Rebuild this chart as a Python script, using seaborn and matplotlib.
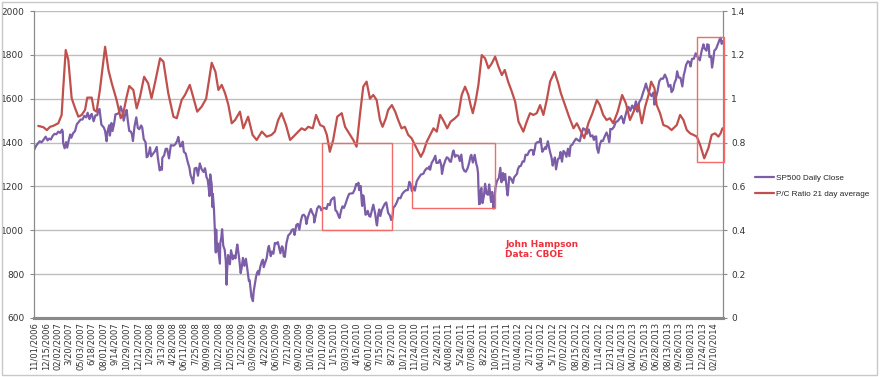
import matplotlib
matplotlib.use("Agg")
import matplotlib.pyplot as plt
from matplotlib.patches import Rectangle
from matplotlib.ticker import FuncFormatter
import pandas as pd
import seaborn as sns

# x axis = trading session number counted from 11/01/2006
tick_labels = [
    "11/01/2006", "12/15/2006", "02/02/2007", "3/20/2007", "05/03/2007", "6/18/2007",
    "08/01/2007", "9/14/2007", "10/29/2007", "12/12/2007", "1/29/2008", "3/13/2008",
    "4/28/2008", "06/11/2008", "7/25/2008", "09/09/2008", "10/22/2008", "12/05/2008",
    "1/22/2009", "03/09/2009", "4/22/2009", "06/05/2009", "7/21/2009", "09/02/2009",
    "10/16/2009", "12/01/2009", "1/15/2010", "03/03/2010", "4/16/2010", "06/01/2010",
    "7/15/2010", "8/27/2010", "10/12/2010", "11/24/2010", "01/10/2011", "2/24/2011",
    "04/08/2011", "5/24/2011", "07/08/2011", "8/22/2011", "10/05/2011", "11/17/2011",
    "01/04/2012", "2/17/2012", "04/03/2012", "5/17/2012", "07/02/2012", "08/15/2012",
    "09/28/2012", "11/14/2012", "12/31/2012", "02/14/2013", "04/02/2013", "05/15/2013",
    "06/28/2013", "08/13/2013", "09/26/2013", "11/08/2013", "12/24/2013", "02/10/2014",
]
tick_step = 31
n_sessions = 1855

sp_session = [
    0, 5, 10, 15, 20, 25, 31, 36, 40, 45, 50, 55, 60, 65, 70, 75, 77, 78, 82, 86, 89, 93, 97, 100,
    105, 110, 115, 120, 125, 130, 135, 140, 144, 147, 149, 152, 155, 160, 165, 170, 173, 176, 181,
    186, 188, 191, 195, 197, 202, 204, 208, 211, 215, 219, 225, 229, 233, 238, 241, 246, 249, 252,
    256, 260, 263, 266, 270, 275, 279, 283, 288, 291, 295, 300, 303, 306, 309, 312, 315, 320, 325,
    330, 333, 338, 342, 344, 345, 350, 354, 358, 363, 368, 375, 380, 385, 388, 393, 397, 400, 403,
    408, 413, 418, 421, 426, 428, 432, 437, 441, 446, 451, 456, 460, 464, 467, 470, 472, 474, 478,
    480, 481, 484, 487, 489, 490, 492, 494, 497, 500, 501, 504, 506, 509, 513, 516, 518, 519, 522,
    527, 530, 535, 538, 542, 544, 546, 547, 552, 556, 559, 562, 566, 570, 573, 578, 580, 585, 589,
    591, 594, 597, 600, 603, 605, 609, 613, 616, 618, 623, 626, 630, 632, 637, 640, 644, 648, 652,
    656, 660, 663, 667, 669, 672, 675, 679, 684, 690, 694, 698, 701, 706, 710, 714, 718, 722, 726,
    730, 733, 736, 740, 745, 749, 753, 754, 758, 762, 766, 770, 773, 777, 782, 787, 791, 796, 799,
    805, 808, 811, 815, 820, 822, 827, 830, 834, 838, 843, 848, 853, 858, 863, 867, 871, 873, 875,
    879, 882, 883, 884, 887, 892, 895, 898, 902, 905, 909, 913, 918, 922, 923, 926, 929, 932, 936,
    940, 944, 948, 953, 958, 961, 964, 967, 971, 976, 981, 986, 991, 996, 1001, 1006, 1010, 1013,
    1017, 1021, 1023, 1025, 1030, 1036, 1041, 1048, 1052, 1057, 1061, 1064, 1066, 1070, 1075, 1080,
    1083, 1088, 1092, 1096, 1098, 1102, 1107, 1111, 1115, 1119, 1122, 1127, 1129, 1133, 1137, 1142,
    1146, 1150, 1154, 1158, 1162, 1167, 1171, 1175, 1177, 1181, 1186, 1190, 1193, 1195, 1196, 1198,
    1199, 1200, 1202, 1204, 1207, 1211, 1214, 1218, 1222, 1225, 1230, 1233, 1237, 1238, 1242, 1246,
    1251, 1255, 1258, 1262, 1264, 1268, 1274, 1275, 1279, 1284, 1289, 1292, 1300, 1302, 1306, 1310,
    1315, 1319, 1323, 1328, 1333, 1338, 1343, 1344, 1348, 1350, 1355, 1361, 1363, 1368, 1372, 1376,
    1378, 1383, 1388, 1393, 1396, 1399, 1402, 1405, 1410, 1414, 1417, 1421, 1425, 1429, 1433, 1437,
    1441, 1444, 1449, 1454, 1459, 1464, 1469, 1473, 1478, 1483, 1488, 1493, 1498, 1503, 1507, 1510,
    1513, 1515, 1519, 1523, 1527, 1531, 1536, 1541, 1545, 1548, 1550, 1551, 1556, 1561, 1566, 1571,
    1576, 1581, 1585, 1587, 1591, 1596, 1600, 1605, 1610, 1615, 1620, 1622, 1624, 1629, 1634, 1639,
    1644, 1647, 1650, 1654, 1658, 1662, 1667, 1669, 1670, 1674, 1678, 1683, 1688, 1693, 1698, 1703,
    1708, 1713, 1716, 1720, 1724, 1728, 1731, 1735, 1740, 1745, 1749, 1751, 1755, 1760, 1764, 1767,
    1771, 1776, 1781, 1785, 1790, 1792, 1797, 1802, 1804, 1810, 1812, 1816, 1818, 1822, 1823, 1825,
    1828, 1831, 1836, 1840, 1843, 1846, 1848, 1851, 1853,
]
sp_close = [
    1367, 1385, 1396, 1406, 1401, 1412, 1427, 1410, 1418, 1414, 1431, 1440, 1438, 1450, 1444, 1459,
    1450, 1399, 1374, 1402, 1377, 1410, 1437, 1422, 1443, 1452, 1484, 1494, 1505, 1505, 1522, 1515,
    1536, 1517, 1507, 1523, 1531, 1497, 1524, 1525, 1549, 1553, 1482, 1472, 1467, 1453, 1406, 1445,
    1479, 1432, 1489, 1453, 1484, 1529, 1531, 1539, 1565, 1538, 1500, 1535, 1549, 1502, 1453, 1451,
    1439, 1407, 1472, 1515, 1467, 1461, 1478, 1468, 1416, 1401, 1333, 1338, 1353, 1378, 1337, 1349,
    1360, 1380, 1331, 1273, 1288, 1276, 1330, 1342, 1371, 1372, 1328, 1388, 1386, 1392, 1408, 1426,
    1382, 1385, 1404, 1358, 1350, 1314, 1285, 1252, 1228, 1214, 1282, 1285, 1249, 1305, 1278, 1266,
    1283, 1242, 1232, 1193, 1156, 1255, 1209, 1106, 1166, 1099, 985, 899, 1003, 907, 940, 896, 848,
    941, 969, 1005, 930, 911, 859, 752, 800, 887, 845, 909, 868, 885, 872, 903, 927, 935, 871, 805,
    832, 874, 838, 870, 835, 770, 773, 696, 677, 721, 753, 784, 806, 815, 798, 835, 858, 866, 832,
    857, 873, 919, 929, 882, 903, 893, 942, 939, 946, 918, 895, 927, 923, 881, 879, 940, 976, 987,
    1002, 1005, 979, 1025, 1029, 1003, 1044, 1068, 1071, 1062, 1029, 1054, 1076, 1097, 1079, 1066,
    1036, 1066, 1099, 1110, 1106, 1091, 1099, 1102, 1097, 1120, 1115, 1137, 1148, 1150, 1092, 1085,
    1063, 1056, 1094, 1109, 1102, 1119, 1145, 1166, 1168, 1169, 1186, 1211, 1207, 1217, 1183, 1202,
    1128, 1111, 1160, 1157, 1071, 1074, 1089, 1065, 1062, 1089, 1117, 1076, 1027, 1022, 1070, 1095,
    1065, 1093, 1107, 1121, 1127, 1079, 1067, 1047, 1049, 1104, 1110, 1126, 1148, 1146, 1166, 1176,
    1183, 1183, 1221, 1213, 1178, 1198, 1198, 1181, 1224, 1241, 1254, 1258, 1273, 1283, 1281, 1291,
    1276, 1307, 1321, 1340, 1307, 1308, 1321, 1296, 1257, 1293, 1319, 1333, 1328, 1314, 1312, 1356,
    1364, 1335, 1342, 1340, 1316, 1345, 1286, 1271, 1267, 1283, 1307, 1339, 1344, 1309, 1344, 1305,
    1287, 1260, 1200, 1119, 1172, 1121, 1179, 1193, 1124, 1159, 1212, 1166, 1162, 1209, 1129, 1175,
    1099, 1124, 1195, 1225, 1238, 1285, 1219, 1261, 1229, 1257, 1162, 1159, 1244, 1235, 1216, 1241,
    1258, 1277, 1292, 1293, 1314, 1313, 1345, 1343, 1362, 1367, 1364, 1344, 1371, 1395, 1402, 1403,
    1419, 1358, 1369, 1379, 1371, 1406, 1363, 1330, 1295, 1318, 1332, 1278, 1325, 1329, 1357, 1313,
    1362, 1354, 1335, 1372, 1338, 1385, 1391, 1406, 1418, 1411, 1406, 1437, 1465, 1460, 1440, 1460,
    1428, 1433, 1412, 1427, 1428, 1377, 1353, 1391, 1409, 1407, 1428, 1446, 1427, 1402, 1426, 1462,
    1461, 1472, 1494, 1498, 1509, 1521, 1502, 1488, 1518, 1551, 1563, 1545, 1569, 1553, 1588, 1574,
    1541, 1585, 1598, 1626, 1651, 1669, 1650, 1631, 1622, 1612, 1628, 1592, 1573, 1606, 1632, 1680,
    1692, 1691, 1710, 1691, 1655, 1663, 1630, 1640, 1672, 1688, 1725, 1697, 1695, 1656, 1710, 1721,
    1754, 1771, 1767, 1747, 1782, 1782, 1807, 1793, 1782, 1775, 1818, 1848, 1831, 1819, 1848, 1845,
    1790, 1795, 1783, 1742, 1773, 1819, 1828, 1845, 1859, 1873, 1878, 1850, 1862,
]

pc_session = [
    11, 25, 34, 43, 51, 65, 74, 78, 85, 92, 101, 110, 119, 128, 137, 143, 155, 161, 168, 177, 191,
    200, 209, 222, 233, 240, 249, 256, 267, 276, 285, 296, 307, 316, 325, 339, 348, 361, 375, 384,
    397, 406, 419, 428, 439, 451, 463, 478, 488, 496, 505, 514, 523, 532, 541, 554, 563, 576, 588,
    599, 613, 626, 639, 648, 657, 666, 678, 689, 698, 711, 720, 729, 738, 750, 759, 770, 780, 788,
    796, 805, 816, 828, 837, 848, 859, 868, 877, 886, 895, 904, 913, 922, 931, 938, 947, 953, 963,
    972, 980, 989, 998, 1007, 1016, 1025, 1034, 1041, 1048, 1057, 1066, 1075, 1084, 1093, 1101,
    1112, 1121, 1133, 1142, 1151, 1160, 1169, 1175, 1181, 1189, 1196, 1205, 1214, 1223, 1232, 1241,
    1250, 1259, 1267, 1276, 1286, 1295, 1304, 1317, 1326, 1335, 1344, 1353, 1362, 1371, 1380, 1389,
    1401, 1411, 1418, 1429, 1440, 1452, 1461, 1470, 1481, 1492, 1503, 1515, 1523, 1532, 1541, 1550,
    1559, 1571, 1583, 1593, 1604, 1616, 1627, 1636, 1645, 1654, 1661, 1670, 1676, 1685, 1694, 1706,
    1716, 1730, 1739, 1748, 1757, 1766, 1775, 1784, 1793, 1804, 1815, 1824, 1833, 1842, 1848, 1853,
]
pc_ratio = [
    0.876, 0.870, 0.857, 0.872, 0.876, 0.888, 0.926, 1.040, 1.222, 1.177, 1.002, 0.958, 0.918, 0.926,
    0.949, 1.005, 1.005, 0.949, 0.941, 1.040, 1.237, 1.131, 1.070, 0.994, 0.911, 0.934, 1.009, 1.058,
    1.040, 0.956, 1.009, 1.100, 1.070, 1.002, 1.070, 1.184, 1.169, 1.025, 0.918, 0.911, 0.994, 1.017,
    1.063, 1.009, 0.941, 0.964, 1.000, 1.164, 1.123, 1.040, 1.063, 1.025, 0.971, 0.888, 0.903, 0.941,
    0.865, 0.918, 0.835, 0.812, 0.850, 0.827, 0.835, 0.850, 0.903, 0.934, 0.880, 0.812, 0.827, 0.850,
    0.865, 0.857, 0.872, 0.865, 0.926, 0.880, 0.872, 0.835, 0.758, 0.812, 0.918, 0.934, 0.872, 0.842,
    0.812, 0.781, 0.926, 1.055, 1.078, 1.000, 1.017, 0.994, 0.903, 0.872, 0.911, 0.949, 0.971, 0.941,
    0.903, 0.865, 0.872, 0.835, 0.820, 0.789, 0.758, 0.735, 0.758, 0.804, 0.835, 0.865, 0.850, 0.926,
    0.903, 0.865, 0.895, 0.911, 0.926, 1.017, 1.055, 1.017, 0.971, 0.934, 0.994, 1.063, 1.199, 1.184,
    1.139, 1.161, 1.192, 1.146, 1.108, 1.131, 1.078, 1.032, 0.986, 0.895, 0.850, 0.895, 0.934, 0.926,
    0.934, 0.971, 0.926, 0.994, 1.078, 1.123, 1.070, 1.025, 0.971, 0.918, 0.865, 0.888, 0.857, 0.820,
    0.888, 0.934, 0.994, 0.971, 0.926, 0.903, 0.911, 0.888, 0.941, 1.017, 0.979, 0.903, 0.949, 0.971,
    0.888, 0.964, 1.017, 1.078, 1.048, 0.971, 0.934, 0.880, 0.872, 0.857, 0.880, 0.926, 0.903, 0.857,
    0.842, 0.835, 0.827, 0.789, 0.728, 0.774, 0.835, 0.842, 0.827, 0.842, 0.865,
]

# highlighted windows: (first session, last session, low, high) on the ratio scale
boxes = [(776, 963, 0.40, 0.80), (1017, 1242, 0.50, 0.80), (1784, 1856, 0.71, 1.28)]

purple = "#7b5ea7"
red = "#c0504d"
box_red = "#f26a6a"
grid_grey = "#bdbdbd"
axis_grey = "#8a8a8a"

sp = pd.DataFrame({"session": sp_session, "close": sp_close})
pc = pd.DataFrame({"session": pc_session, "ratio": pc_ratio})

sns.set_style("white")
plt.rcParams["font.family"] = ["DejaVu Sans"]

fig = plt.figure(figsize=(8.8, 3.77), dpi=100)
ax = fig.add_axes([0.0386, 0.1565, 0.7830, 0.8143])
ax2 = ax.twinx()

sns.lineplot(data=sp, x="session", y="close", ax=ax, color=purple, linewidth=1.6,
             label="SP500 Daily Close", legend=False)
sns.lineplot(data=pc, x="session", y="ratio", ax=ax2, color=red, linewidth=1.6,
             label="P/C Ratio 21 day average", legend=False)

ax.set_xlim(-0.5, n_sessions - 0.5)
ax.set_ylim(600, 2000)
ax2.set_ylim(0, 1.4)
ax.set_yticks(range(600, 2001, 200))
ax2.set_yticks([0, 0.2, 0.4, 0.6, 0.8, 1.0, 1.2, 1.4])
ax2.yaxis.set_major_formatter(FuncFormatter(lambda v, p: f"{v:g}"))
ax.set_xticks([i * tick_step for i in range(len(tick_labels))])
ax.set_xticklabels(tick_labels, rotation=90)
ax.set_xlabel("")
ax.set_ylabel("")
ax2.set_ylabel("")

ax.grid(axis="y", color=grid_grey, linewidth=1)
ax.set_axisbelow(True)
for a in (ax, ax2):
    a.spines["top"].set_visible(False)
    a.spines["left"].set_color(axis_grey)
    a.spines["right"].set_color(axis_grey)
    a.spines["bottom"].set_color(axis_grey)
    a.spines["bottom"].set_linewidth(2.2)
ax.tick_params(axis="y", direction="out", length=3, width=0.8, color=axis_grey,
               labelsize=6.5, labelcolor="#333333", pad=4)
ax2.tick_params(axis="y", direction="out", length=3, width=0.8, color=axis_grey,
                labelsize=6.5, labelcolor="#333333", pad=3)
ax.tick_params(axis="x", length=0, labelsize=6, labelcolor="#333333", pad=3)

for x0, x1, lo, hi in boxes:
    ax2.add_patch(Rectangle((x0, lo), x1 - x0, hi - lo, fill=False,
                            edgecolor=box_red, linewidth=1, zorder=5, clip_on=False))

ax2.text(1268, 0.355, "John Hampson\nData: CBOE", color="#f0303c", fontsize=6.5,
         fontweight="bold", va="top", ha="left", linespacing=1.15)

handles = ax.get_lines()[:1] + ax2.get_lines()[:1]
fig.legend(handles, [h.get_label() for h in handles], loc="upper left",
           bbox_to_anchor=(0.853, 0.548), frameon=False,
           prop={"family": "Liberation Sans", "size": 5.9},
           handlelength=2.4, handletextpad=0.15, labelspacing=0.95, borderpad=0)

fig.patches.append(Rectangle((0.002, 0.004), 0.995, 0.991, transform=fig.transFigure,
                             fill=False, edgecolor="#c8c8c8", linewidth=1))

fig.savefig("out.png", dpi=100)
